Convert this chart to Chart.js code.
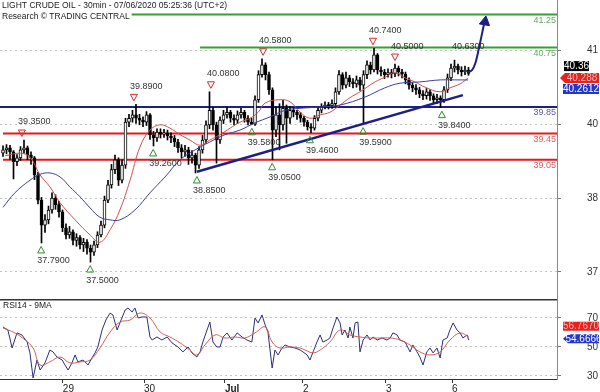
<!DOCTYPE html>
<html><head><meta charset="utf-8">
<script src="https://cdn.jsdelivr.net/npm/chart.js@4.4.1/dist/chart.umd.min.js"></script>
<style>
html,body{margin:0;padding:0;background:#fff;width:600px;height:392px;overflow:hidden}
#main{position:absolute;left:0;top:0}
#rsi{position:absolute;left:0;top:299px}
</style></head><body>
<canvas id="main" width="600" height="299"></canvas>
<canvas id="rsi" width="600" height="93"></canvas>
<script>
// ---------- DATA ----------
const titleLines = ['LIGHT CRUDE OIL - 30min - 07/06/2020 05:25:36 (UTC+2)', 'Research \u00a9 TRADING CENTRAL'];
const opens = [39.15,39.20,39.23,39.17,39.02,39.08,39.20,39.23,39.12,39.08,
 38.82,38.44,38.06,38.14,38.29,38.47,38.37,38.26,38.02,37.91,
 37.96,37.83,37.87,37.76,37.80,37.71,37.65,37.76,37.91,38.06,
 38.44,38.67,38.90,39.05,38.74,38.97,39.62,39.68,39.73,39.68,
 39.65,39.62,39.73,39.43,39.38,39.47,39.44,39.46,39.41,39.38,
 39.32,39.23,39.17,39.20,39.08,39.12,38.97,39.20,39.35,39.58,
 39.80,39.58,39.35,39.65,39.73,39.77,39.68,39.65,39.73,39.77,
 39.68,39.62,39.59,39.96,40.34,40.49,40.34,40.11,39.50,39.73,
 39.58,39.83,39.68,39.80,39.77,39.73,39.68,39.62,39.55,39.53,
 39.68,39.80,39.85,39.88,39.87,39.90,40.08,40.34,40.18,40.29,
 40.23,40.20,40.26,40.18,40.34,40.49,40.41,40.64,40.41,40.38,
 40.34,40.37,40.35,40.44,40.38,40.35,40.26,40.18,40.14,40.11,
 40.05,40.02,40.08,40.02,39.96,39.99,39.96,40.11,40.29,40.44,
 40.47,40.41,40.38,40.41];
const closes = [39.20,39.23,39.17,39.02,39.08,39.20,39.23,39.12,39.08,38.82,
 38.44,38.06,38.14,38.29,38.47,38.37,38.26,38.02,37.91,37.96,
 37.83,37.87,37.76,37.80,37.71,37.65,37.76,37.91,38.06,38.44,
 38.67,38.90,39.05,38.74,38.97,39.62,39.68,39.73,39.68,39.65,
 39.62,39.73,39.43,39.38,39.47,39.44,39.46,39.41,39.38,39.32,
 39.23,39.17,39.20,39.08,39.12,38.97,39.20,39.35,39.58,39.80,
 39.58,39.35,39.65,39.73,39.77,39.68,39.65,39.73,39.77,39.68,
 39.62,39.59,39.96,40.34,40.49,40.34,40.11,39.50,39.73,39.58,
 39.83,39.68,39.80,39.77,39.73,39.68,39.62,39.55,39.53,39.68,
 39.80,39.85,39.88,39.87,39.90,40.08,40.34,40.18,40.29,40.23,
 40.20,40.26,40.18,40.34,40.49,40.41,40.64,40.41,40.38,40.34,
 40.37,40.35,40.44,40.38,40.35,40.26,40.18,40.14,40.11,40.05,
 40.02,40.08,40.02,39.96,39.99,39.96,40.11,40.29,40.44,40.47,
 40.41,40.38,40.41,40.36];
const highs = [39.26,39.28,39.27,39.19,39.13,39.25,39.35,39.26,39.17,39.10,
 38.86,38.48,38.22,38.35,38.55,38.52,38.42,38.29,38.08,38.04,
 37.99,37.93,37.90,37.86,37.84,37.76,37.82,37.96,38.12,38.50,
 38.74,38.98,39.12,39.08,39.05,39.68,39.74,39.80,39.89,39.74,
 39.70,39.78,39.75,39.48,39.52,39.52,39.51,39.50,39.46,39.42,
 39.36,39.28,39.27,39.24,39.19,39.15,39.25,39.42,39.64,40.08,
 39.84,39.62,39.70,39.80,39.84,39.80,39.73,39.79,39.83,39.80,
 39.72,39.68,40.02,40.40,40.58,40.52,40.38,40.14,39.85,39.90,
 39.95,39.88,39.86,39.84,39.80,39.77,39.71,39.65,39.60,39.72,
 39.85,39.90,39.93,39.92,39.96,40.14,40.40,40.37,40.38,40.33,
 40.28,40.32,40.30,40.40,40.55,40.53,40.74,40.66,40.46,40.42,
 40.43,40.42,40.50,40.47,40.42,40.38,40.29,40.22,40.19,40.15,
 40.10,40.13,40.11,40.05,40.04,40.02,40.16,40.35,40.50,40.56,
 40.50,40.46,40.47,40.45];
const lows = [39.10,39.14,39.06,38.76,38.96,39.04,39.15,39.05,38.98,38.75,
 38.38,37.79,37.95,38.08,38.24,38.30,38.18,37.96,37.85,37.86,
 37.76,37.74,37.70,37.66,37.62,37.50,37.60,37.72,37.88,38.02,
 38.40,38.62,38.84,38.66,38.70,38.92,39.55,39.62,39.60,39.58,
 39.55,39.57,39.36,39.26,39.33,39.38,39.39,39.35,39.31,39.25,
 39.16,39.08,39.10,38.98,39.00,38.85,38.92,39.15,39.30,39.52,
 39.50,39.00,39.30,39.60,39.68,39.62,39.58,39.60,39.68,39.62,
 39.58,39.58,39.57,39.92,40.30,40.26,40.04,39.05,39.40,39.20,
 39.50,39.30,39.60,39.70,39.66,39.62,39.56,39.50,39.46,39.50,
 39.64,39.76,39.82,39.82,39.83,39.86,40.04,40.12,40.14,40.16,
 40.14,40.15,40.10,39.59,40.28,40.35,40.38,40.35,40.32,40.28,
 40.30,40.29,40.31,40.32,40.29,40.20,40.12,40.08,40.04,39.99,
 39.96,39.97,39.95,39.90,39.90,39.84,39.92,40.07,40.25,40.38,
 40.35,40.32,40.34,40.33];

const maRedIdx = [0.6,4.9,7.7,10.6,13.4,16.3,20.6,24.9,27.7,30.6,33.4,36.3,39.1,42.0,44.9,47.7,50.6,53.4,56.3,59.1,62.0,64.9,67.7,70.6,72.9,74.9,79.1,82.0,84.9,87.7,90.6,93.4,96.3,99.1,102.0,106.3,109.1,112.0,114.9,117.7,120.6,124.9,127.7,130.6,132.9];
const maRedVal = [39.11,39.15,39.09,38.82,38.64,38.40,38.14,37.91,37.80,37.99,38.29,38.74,39.24,39.50,39.58,39.53,39.43,39.35,39.27,39.35,39.43,39.53,39.62,39.68,39.77,39.91,39.96,39.93,39.77,39.68,39.73,39.77,39.88,39.99,40.08,40.23,40.30,40.37,40.29,40.23,40.15,40.08,40.14,40.20,40.29];
const maBlueIdx = [0,3.4,7.7,10.6,13.4,16.3,19.1,22.0,24.9,27.7,30.6,33.4,37.7,42.0,46.3,50.6,54.9,59.1,63.4,67.7,72.0,76.3,80.6,84.9,90.6,96.3,103.4,109.1,113.4,119.1,124.9,130.6,132.9];
const maBlueVal = [38.33,38.55,38.74,38.83,38.85,38.79,38.64,38.49,38.32,38.18,38.14,38.14,38.29,38.55,38.79,39.05,39.20,39.32,39.43,39.50,39.61,39.70,39.80,39.83,39.85,39.88,40.00,40.14,40.21,40.23,40.26,40.26,40.26];

const levelVals = [41.25, 40.75, 39.85, 39.45, 39.05];
const levelFrom = [-0.86, 56.3, -0.86, 0, 0];
const trendIdx = [55.4, 131.4];
const trendVal = [38.87, 40.03];
const arrowIdx = [132.6, 134.0, 135.0, 135.9, 136.7, 137.4];
const arrowVal = [40.38, 40.41, 40.52, 40.72, 40.92, 41.10];
const arrowTipIdx = [137.7];
const arrowTipVal = [41.14];

const highIdx = [5.4, 37.4, 59.4, 74.3, 105.7, 112.0, 129.4];
const highVal = [39.35, 39.89, 40.08, 40.58, 40.74, 40.50, 40.50];
const highText = ['39.3500','39.8900','40.0800','40.5800','40.7400','40.5000','40.6300'];
const highMark = [1,1,1,1,1,1,0];
const lowIdx = [10.9, 24.9, 42.9, 55.4, 71.1, 76.9, 87.7, 102.9, 125.4];
const lowVal = [37.79, 37.50, 39.26, 38.85, 39.58, 39.05, 39.46, 39.59, 39.84];

const lastClose = 40.36, lastMaRed = 40.288, lastMaBlue = 40.2612;

const gridVals = [0, 1, 2, 3];
const gridLabels = ['37', '38', '40', '41'];

const rsiIdx = [0,1.4,2.6,4.0,5.4,6.9,7.7,8.6,9.7,10.6,12.0,13.4,14.3,15.4,16.9,17.7,18.6,19.7,20.6,21.4,22.9,24.3,25.4,26.3,27.1,28.3,29.4,30.6,31.4,32.6,33.4,34.9,35.7,36.9,37.7,38.6,39.7,41.1,42.0,42.6,44.0,45.4,46.9,48.3,50.0,51.4,52.9,54.0,55.4,56.3,57.1,58.3,59.1,60.0,61.1,62.0,62.9,64.0,65.4,66.9,68.3,69.7,71.1,72.0,72.9,74.0,74.9,75.7,76.9,77.7,78.6,79.7,80.6,82.0,83.4,84.9,85.7,86.9,87.7,88.6,89.7,90.6,91.4,92.6,93.4,94.3,95.4,96.3,96.9,97.7,98.6,99.1,100.0,100.6,101.4,102.0,102.9,104.0,104.9,105.7,106.9,108.3,109.7,110.6,111.4,112.6,113.4,114.9,116.3,117.1,118.3,119.1,120.0,121.1,122.0,122.9,124.0,124.9,125.7,126.9,127.7,128.6,129.7,130.6,131.4,132.6,133.1];
const rsiVal = [63.8,61.7,49.3,59.7,58.3,53.4,45.9,28.6,41.0,34.1,39.0,47.9,46.6,43.1,41.0,37.6,34.1,39.0,44.5,39.7,41.0,37.6,42.4,45.9,50.0,61.7,68.6,73.4,72.1,61.7,66.6,75.5,76.9,74.1,76.9,70.0,70.7,70.7,56.9,54.8,56.9,54.8,56.9,52.8,50.0,46.6,50.0,45.9,43.1,46.6,53.4,61.7,67.2,53.4,50.0,50.0,56.9,59.7,54.8,59.7,56.9,54.8,53.4,70.0,66.6,72.1,65.2,60.3,35.5,47.9,44.5,49.3,51.4,50.0,49.3,47.9,46.6,44.5,41.0,46.6,53.4,58.3,53.4,54.8,56.2,63.1,70.7,66.6,58.3,61.7,56.2,63.8,56.2,66.6,67.2,46.6,54.8,58.3,54.8,56.9,54.8,56.2,54.8,56.2,59.7,58.3,54.8,53.4,46.6,51.4,46.6,43.1,37.6,46.6,49.3,45.9,49.3,42.4,54.8,56.2,61.7,66.6,61.7,59.7,56.2,58.3,54.7];
const rsiMaIdx = [0,3.4,6.3,8.6,10.6,13.4,16.3,19.1,22.0,24.9,27.7,30.6,33.4,36.3,39.1,42.0,44.9,47.7,50.6,53.4,55.4,57.7,60.6,63.4,66.3,69.1,72.0,74.9,76.9,79.1,82.0,84.9,86.3,88.6,90.6,93.4,96.3,99.1,102.0,104.9,107.7,110.6,113.4,116.3,119.1,122.0,124.9,127.7,130.6,133.1];
const rsiMaVal = [63.1,59.7,54.8,49.3,37.6,39.7,43.1,39.0,39.7,41.0,49.3,60.3,67.2,68.6,73.4,70.0,60.3,56.9,52.8,47.9,44.5,51.4,58.3,56.2,56.9,56.2,59.7,63.8,53.4,49.3,50.0,49.3,47.9,45.9,47.9,53.4,61.7,58.3,56.9,56.2,56.2,56.2,54.8,51.4,46.6,44.5,46.6,54.8,59.7,56.8];
const rsiLast = 54.6666, rsiMaLast = 56.7670;
const rsiTicks = [30, 50, 70];
const dayIdx = [17.1, 40.3, 63.4, 85.7, 109.4, 128.3];
const dayLabels = ['29', '30', 'Jul', '2', '3', '6'];

// ---------- STYLE ----------
const FONT = '"Liberation Sans", Arial, sans-serif';
Chart.defaults.font.family = FONT;
const X_MIN = -0.857, X_MAX = 158.286;
const NAVY = '#1c1f86', RED = '#e3181c', GREEN = '#37a035';
const levelColors = [GREEN, GREEN, NAVY, RED, RED];
const levelTextColors = ['#62aa5e', '#62aa5e', '#5a5aa8', '#e05a5a', '#e05a5a'];

const pts = (xs, ys) => xs.map((x, i) => ({x, y: ys[i]}));

const levelSets = levelVals.map((v, k) => ({
  type: 'line', data: [{x: levelFrom[k], y: v}, {x: X_MAX, y: v}],
  borderColor: levelColors[k], borderWidth: 2, pointRadius: 0, order: 8
}));

function box(ctx, x, yc, w, h, bg, fg, text, arrow) {
  ctx.fillStyle = bg;
  ctx.beginPath();
  if (arrow) {
    ctx.moveTo(x - 5, yc); ctx.lineTo(x, yc - h / 2); ctx.lineTo(x + w, yc - h / 2);
    ctx.lineTo(x + w, yc + h / 2); ctx.lineTo(x, yc + h / 2); ctx.closePath();
  } else ctx.rect(x, yc - h / 2, w, h);
  ctx.fill();
  ctx.fillStyle = fg; ctx.textAlign = 'center'; ctx.textBaseline = 'middle';
  ctx.font = '10px ' + FONT;
  ctx.fillText(text, x + w / 2, yc + 0.5);
}

const annPlugin = {
  id: 'ann',
  afterDraw(chart) {
    const {ctx, chartArea: ca} = chart;
    const x = chart.scales.x, y = chart.scales.y;
    ctx.save();
    ctx.font = '9px ' + FONT;
    ctx.textBaseline = 'middle';
    levelVals.forEach((v, k) => {
      ctx.fillStyle = levelTextColors[k]; ctx.textAlign = 'right';
      ctx.fillText(v.toFixed(2), ca.right - 1, y.getPixelForValue(v) + 6);
    });
    ctx.lineWidth = 1;
    highIdx.forEach((i, k) => {
      const px = x.getPixelForValue(i), ty = y.getPixelForValue(highVal[k]) - 7;
      if (highMark[k]) {
        ctx.beginPath(); ctx.moveTo(px - 3.5, ty - 3); ctx.lineTo(px + 3.5, ty - 3); ctx.lineTo(px, ty + 3.5); ctx.closePath();
        ctx.strokeStyle = '#d42a2a'; ctx.stroke();
      }
      ctx.fillStyle = '#333'; ctx.textAlign = 'left';
      ctx.fillText(highText[k], px - 4, ty - 11);
    });
    lowIdx.forEach((i, k) => {
      const px = x.getPixelForValue(i), ty = y.getPixelForValue(lowVal[k]) + 7;
      ctx.beginPath(); ctx.moveTo(px - 3.5, ty + 3); ctx.lineTo(px + 3.5, ty + 3); ctx.lineTo(px, ty - 3.5); ctx.closePath();
      ctx.strokeStyle = '#2f8f2f'; ctx.stroke();
      ctx.fillStyle = '#333'; ctx.textAlign = 'left';
      ctx.fillText(lowVal[k].toFixed(4), px - 4, ty + 11);
    });
    // title
    ctx.font = '8.5px ' + FONT; ctx.textAlign = 'left';
    titleLines.forEach((t, k) => {
      const w = ctx.measureText(t).width;
      ctx.fillStyle = '#fff'; ctx.fillRect(0, k * 11, w + 4, 11);
      ctx.fillStyle = '#1a1a1a'; ctx.fillText(t, 2, 6 + k * 11);
    });
    // right boxes
    const yr = y.getPixelForValue(lastMaRed);
    box(ctx, 564, yr - 12, 25, 10, '#000', '#fff', String(lastClose), false);
    box(ctx, 565, yr, 34, 10, '#e8201e', '#ffb4b4', String(lastMaRed), true);
    box(ctx, 563, yr + 11, 36, 10, '#2236c8', '#fff', String(lastMaBlue), false);
    ctx.restore();
  }
};

new Chart(document.getElementById('main'), {
  type: 'bar',
  data: {
    datasets: [
      ...levelSets,
      {type: 'line', data: pts(trendIdx, trendVal), borderColor: NAVY, borderWidth: 2.5, pointRadius: 0, order: 1},
      {type: 'line', data: pts(arrowIdx, arrowVal), borderColor: NAVY, borderWidth: 2, pointRadius: 0, tension: 0.4, cubicInterpolationMode: 'monotone', order: 1},
      {type: 'scatter', data: pts(arrowTipIdx, arrowTipVal), pointStyle: 'triangle', rotation: 10, pointRadius: 6, backgroundColor: NAVY, borderColor: NAVY, order: 1},
      {type: 'line', data: pts(maBlueIdx, maBlueVal), borderColor: '#3a3fa0', borderWidth: 1, pointRadius: 0, tension: 0.4, order: 2},
      {type: 'line', data: pts(maRedIdx, maRedVal), borderColor: '#d0504a', borderWidth: 1, pointRadius: 0, tension: 0.4, order: 2},
      {label: 'wick', data: closes.map((c, i) => ({x: i, y: [lows[i], highs[i]]})), backgroundColor: '#000', barThickness: 1, grouped: false, order: 4},
      {label: 'body', data: closes.map((c, i) => ({x: i, y: [opens[i], c]})), backgroundColor: closes.map((c, i) => c >= opens[i] ? '#fff' : '#000'),
        borderColor: '#000', borderWidth: 1, borderSkipped: false, barThickness: 3, grouped: false, minBarLength: 1, order: 3}
    ]
  },
  options: {
    responsive: false, animation: false, events: [],
    layout: {padding: 0, autoPadding: false},
    plugins: {legend: {display: false}, tooltip: {enabled: false}},
    scales: {
      x: {type: 'linear', min: X_MIN, max: X_MAX, offset: false, display: false},
      y: {type: 'linear', min: 36.941, max: 41.471, display: false},
      yg: {type: 'linear', position: 'right', min: -0.365, max: 3.676,
        afterBuildTicks: s => { s.ticks = gridVals.map(v => ({value: v})); },
        afterFit: s => { s.width = 43; s.paddingTop = 0; s.paddingBottom = 0; },
        ticks: {callback: (v, i) => gridLabels[i], font: {size: 10}, color: '#333', padding: 26},
        grid: {color: '#c4c4c4', tickLength: 4, tickColor: '#777'},
        border: {color: '#888', dash: [2, 3]}}
    }
  },
  plugins: [annPlugin]
});

const rsiPlugin = {
  id: 'rsiAnn',
  afterDraw(chart) {
    const {ctx, chartArea: ca} = chart;
    const y = chart.scales.y;
    ctx.save();
    ctx.strokeStyle = '#333'; ctx.lineWidth = 1.5;
    ctx.beginPath(); ctx.moveTo(0, 0.75); ctx.lineTo(ca.right, 0.75); ctx.stroke();
    ctx.font = '8.5px ' + FONT; ctx.fillStyle = '#222'; ctx.textAlign = 'left'; ctx.textBaseline = 'middle';
    ctx.fillText('RSI14 - 9MA', 3, 7);
    const yb = y.getPixelForValue(rsiLast);
    box(ctx, 563, yb - 14, 36, 9, '#e8201e', '#ffb4b4', rsiMaLast.toFixed(4), false);
    box(ctx, 568, yb - 1.5, 31, 9, '#2236c8', '#fff', rsiLast.toFixed(4), true);
    ctx.restore();
  }
};

new Chart(document.getElementById('rsi'), {
  type: 'line',
  data: {
    datasets: [
      {data: pts(rsiMaIdx, rsiMaVal), borderColor: '#d0604f', borderWidth: 1, pointRadius: 0, tension: 0.4},
      {data: pts(rsiIdx, rsiVal), borderColor: '#2b2f7a', borderWidth: 1, pointRadius: 0, tension: 0}
    ]
  },
  options: {
    responsive: false, animation: false, events: [],
    layout: {padding: 0, autoPadding: false},
    plugins: {legend: {display: false}, tooltip: {enabled: false}},
    scales: {
      x: {type: 'linear', min: X_MIN, max: X_MAX, position: 'bottom',
        afterBuildTicks: s => { s.ticks = dayIdx.map(v => ({value: v})); },
        afterFit: s => { s.height = 13; s.paddingLeft = 0; s.paddingRight = 0; },
        ticks: {callback: (v, i) => dayLabels[i], align: 'start', maxRotation: 0, autoSkip: false, padding: 0,
          font: c => ({size: 10, weight: dayLabels[c.index] === 'Jul' ? 'bold' : 'normal'}), color: '#222'},
        grid: {drawOnChartArea: false, tickLength: 4, tickColor: '#333'},
        border: {color: '#333'}},
      y: {type: 'linear', position: 'right', min: 27.9, max: 83.1,
        afterBuildTicks: s => { s.ticks = rsiTicks.map(v => ({value: v})); },
        afterFit: s => { s.width = 43; s.paddingTop = 0; s.paddingBottom = 0; },
        ticks: {font: {size: 10}, color: '#333', padding: 26},
        grid: {color: '#c4c4c4', tickLength: 4, tickColor: '#777'},
        border: {color: '#888', dash: [2, 3]}}
    }
  },
  plugins: [rsiPlugin]
});
</script>
</body></html>
